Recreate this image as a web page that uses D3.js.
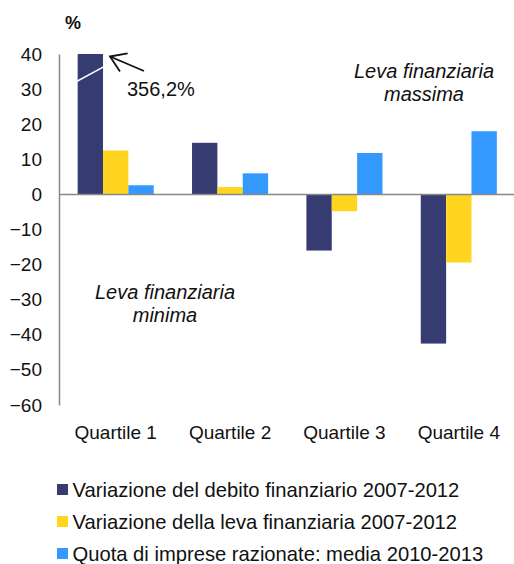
<!DOCTYPE html>
<html>
<head>
<meta charset="utf-8">
<script src="https://cdn.jsdelivr.net/npm/d3@7"></script>
<style>
  html, body { margin: 0; padding: 0; background: #fff; }
  svg { display: block; font-family: "Liberation Sans", Arial, sans-serif; }
</style>
</head>
<body>
<svg id="chart" width="514" height="564"></svg>
<script>
const categories = ["Quartile 1", "Quartile 2", "Quartile 3", "Quartile 4"];
const seriesNames = [
  "Variazione del debito finanziario 2007-2012",
  "Variazione della leva finanziaria 2007-2012",
  "Quota di imprese razionate: media 2010-2013"
];
const debito = [356.2, 14.7, -16.0, -42.5];
const leva = [12.5, 2.1, -4.8, -19.4];
const razionate = [2.6, 6.0, 11.8, 18.0];
const yTicks = [40, 30, 20, 10, 0, -10, -20, -30, -40, -50, -60];
const colors = ["#363b72", "#ffd520", "#3399ff"];

const svg = d3.select("#chart");
const series = [debito, leva, razionate];

const x0 = d3.scaleBand().domain(categories).range([58.5, 516]).paddingInner(0.335).paddingOuter(0.1675);
const x1 = d3.scaleBand().domain(d3.range(series.length)).range([0, x0.bandwidth()]);
const y = d3.scaleLinear().domain([-60, 40]).range([405, 54]);
const clampY = v => Math.max(-60, Math.min(40, v));

// bars (values beyond the axis are cut at the top)
categories.forEach((c, i) => {
  series.forEach((s, j) => {
    const v = clampY(s[i]);
    svg.append("rect")
      .attr("x", x0(c) + x1(j))
      .attr("width", x1.bandwidth())
      .attr("y", y(Math.max(0, v)))
      .attr("height", Math.abs(y(v) - y(0)))
      .attr("fill", colors[j]);
  });
});

// axis break mark on the truncated bar
const bx = x0(categories[0]) + x1(0);
svg.append("line")
  .attr("x1", bx - 8).attr("y1", y(31.1))
  .attr("x2", bx + 31).attr("y2", y(37.1))
  .attr("stroke", "#fff").attr("stroke-width", 1.5);

// y axis
const yAxis = d3.axisLeft(y).tickValues(yTicks).tickSize(0).tickPadding(17).tickFormat(d3.format("d"));
const gy = svg.append("g").attr("transform", "translate(59,0)").call(yAxis);
gy.select(".domain").attr("stroke", "#888").attr("stroke-width", 1.5);
gy.selectAll("text").attr("font-size", 19).attr("fill", "#111").attr("font-family", "Liberation Sans, Arial, sans-serif");

// zero line
svg.append("line")
  .attr("x1", 59).attr("x2", 514)
  .attr("y1", y(0)).attr("y2", y(0))
  .attr("stroke", "#888").attr("stroke-width", 1.5);

// category labels
svg.selectAll(".cat").data(categories).enter().append("text")
  .attr("x", d => x0(d) + x0.bandwidth() / 2)
  .attr("y", 439)
  .attr("text-anchor", "middle")
  .attr("font-size", 19).attr("fill", "#111")
  .text(d => d);

// unit
svg.append("text").attr("x", 65).attr("y", 29)
  .attr("font-size", 18).attr("font-weight", "bold").attr("fill", "#111").text("%");

// arrow and label for the truncated value
svg.append("defs").append("marker")
  .attr("id", "arrowhead").attr("viewBox", "0 0 20 22")
  .attr("refX", 18).attr("refY", 11).attr("markerWidth", 20).attr("markerHeight", 22)
  .attr("markerUnits", "userSpaceOnUse").attr("orient", "auto")
  .append("path").attr("d", "M3,1.2 L18,11 L3,20.8").attr("fill", "none")
  .attr("stroke", "#111").attr("stroke-width", 1.8).attr("stroke-linejoin", "miter");
svg.append("line")
  .attr("x1", 144).attr("y1", 71).attr("x2", 110).attr("y2", 56.5)
  .attr("stroke", "#111").attr("stroke-width", 1.8)
  .attr("marker-end", "url(#arrowhead)");
svg.append("text").attr("x", 127).attr("y", 96)
  .attr("font-size", 20).attr("fill", "#111")
  .text(d3.format(".1f")(debito[0]).replace(".", ",") + "%");

// annotations
const ann = [
  { x: 424, y: 78, lines: ["Leva finanziaria", "massima"] },
  { x: 165, y: 299, lines: ["Leva finanziaria", "minima"] }
];
ann.forEach(a => {
  const t = svg.append("text").attr("text-anchor", "middle").attr("font-size", 20)
    .attr("font-style", "italic").attr("fill", "#111");
  a.lines.forEach((l, k) => t.append("tspan").attr("x", a.x).attr("y", a.y + k * 23).text(l));
});

// legend
const legend = svg.selectAll(".leg").data(seriesNames).enter().append("g")
  .attr("transform", (d, i) => `translate(57,${497 + i * 32})`);
legend.append("rect").attr("x", 0).attr("y", -13).attr("width", 11).attr("height", 11)
  .attr("fill", (d, i) => colors[i]);
legend.append("text").attr("x", 15.5).attr("y", 0)
  .attr("font-size", 20.2).attr("fill", "#111").text(d => d);
</script>
</body>
</html>
